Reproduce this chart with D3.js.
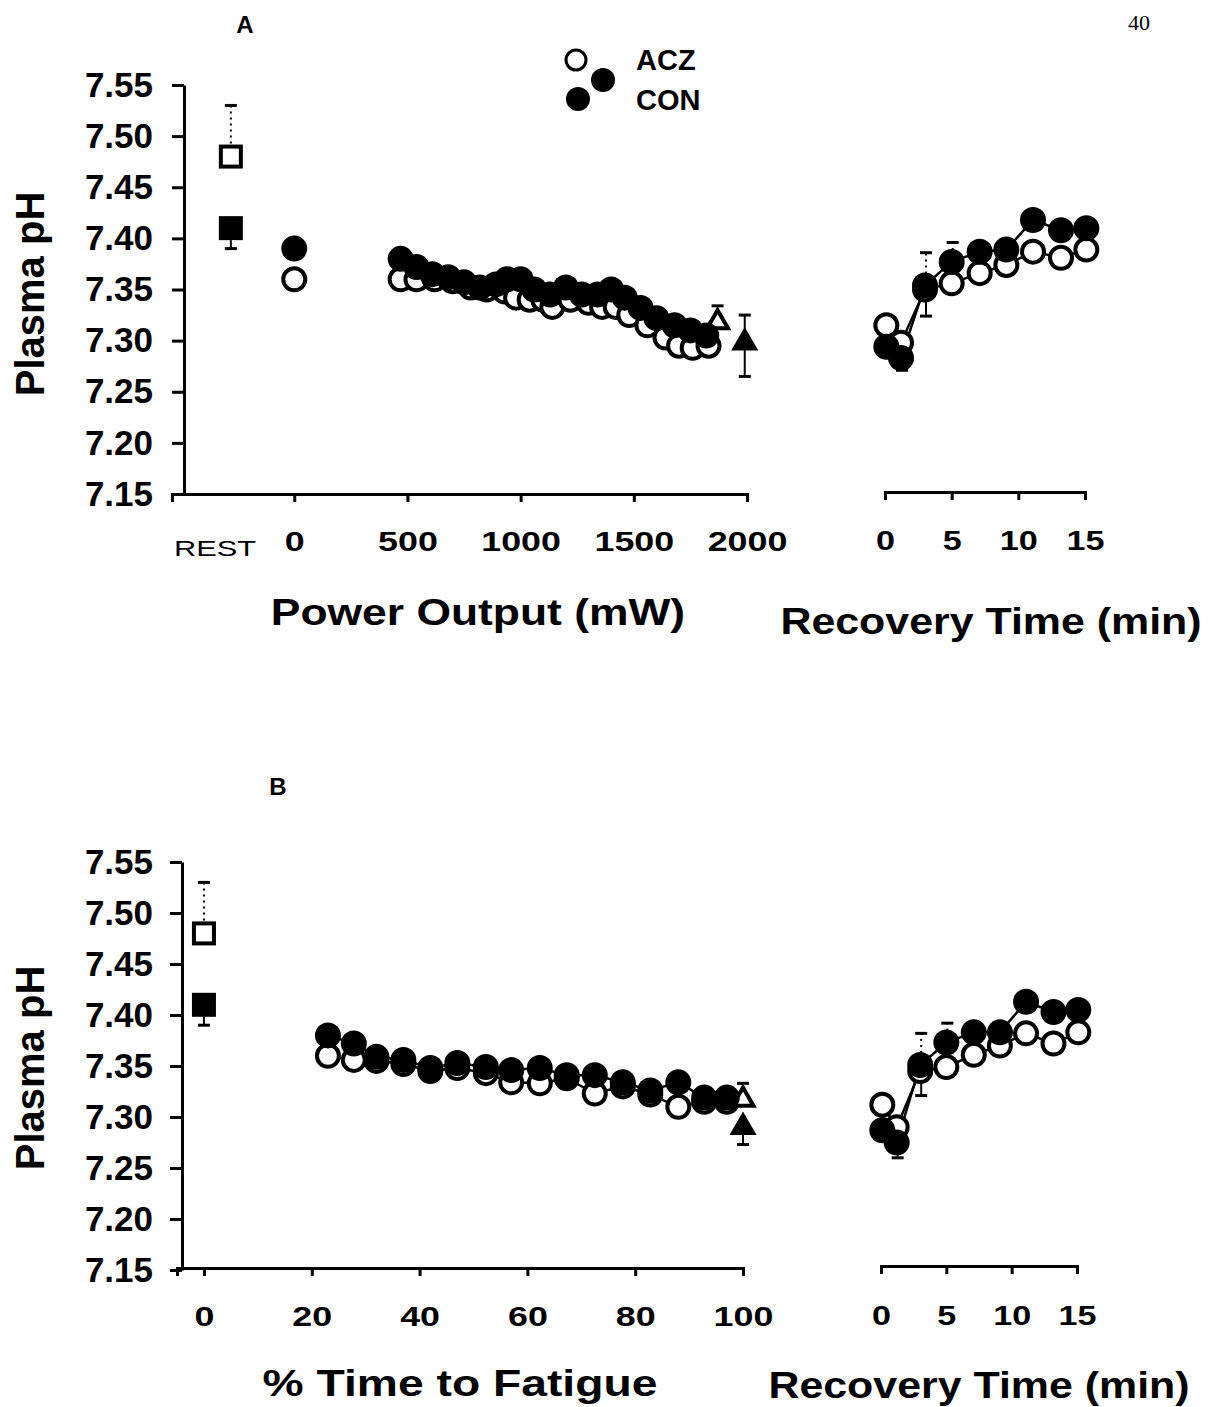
<!DOCTYPE html>
<html><head><meta charset="utf-8">
<script src="https://cdn.jsdelivr.net/npm/d3@7"></script>
<style>body{margin:0;background:#fff}</style>
</head><body>
<svg id="c" width="1213" height="1407"></svg>
<script>
// ---------------- DATA ----------------
const yTicks = [7.15, 7.20, 7.25, 7.30, 7.35, 7.40, 7.45, 7.50, 7.55];
const powerTicks = [0, 500, 1000, 1500, 2000];
const pctTicks = [0, 20, 40, 60, 80, 100];
const recTicks = [0, 5, 10, 15];

// Rest values (mean, error end)
const restACZ = 7.48, restACZerr = 7.53;
const restCON = 7.41, restCONerr = 7.39;

// Panel A: power output (mW)
const aZeroACZ = 7.36, aZeroCON = 7.39;
const aPowerACZ = [470, 540, 620, 700, 780, 850, 930, 980, 1040, 1100, 1140, 1220, 1300, 1360, 1420, 1480, 1560, 1640, 1700, 1760, 1830];
const aPhACZ    = [7.36, 7.36, 7.36, 7.358, 7.352, 7.35, 7.348, 7.342, 7.34, 7.34, 7.333, 7.34, 7.337, 7.333, 7.333, 7.325, 7.315, 7.303, 7.295, 7.293, 7.295];
const aPowerCON = [470, 540, 610, 680, 750, 820, 890, 940, 1000, 1060, 1130, 1200, 1270, 1340, 1400, 1460, 1530, 1600, 1680, 1750, 1820];
const aPhCON    = [7.38, 7.372, 7.365, 7.362, 7.357, 7.352, 7.355, 7.36, 7.36, 7.35, 7.345, 7.352, 7.345, 7.345, 7.35, 7.342, 7.332, 7.322, 7.315, 7.31, 7.305];
const aEndACZ = [1870, 7.318], aEndACZerr = [7.334];
const aEndCON = [1990, 7.298], aEndCONerr = [7.325, 7.265];

// Recovery (min)
const recTime = [0.1, 1.2, 3, 5, 7.1, 9.1, 11.1, 13.2, 15.1];
const aRecACZ = [7.315, 7.298, 7.35, 7.356, 7.366, 7.374, 7.387, 7.381, 7.389];
const aRecCON = [7.294, 7.283, 7.354, 7.377, 7.387, 7.389, 7.418, 7.408, 7.41];
const aRecCONerrHi = [null, null, 7.386, 7.396, null, null, null, null, null];
const aRecCONerrLo = [null, 7.271, 7.324, null, null, null, null, null, null];

// Panel B: % time to fatigue
const bPct   = [23, 27.8, 32, 37, 42, 47, 52.3, 57, 62.3, 67.3, 72.5, 77.7, 82.8, 88, 92.8, 97];
const bPhCON = [7.38, 7.372, 7.359, 7.356, 7.348, 7.353, 7.349, 7.346, 7.348, 7.341, 7.341, 7.334, 7.326, 7.334, 7.319, 7.319];
const bPhACZ = [7.36, 7.356, 7.355, 7.352, 7.345, 7.348, 7.343, 7.334, 7.333, 7.338, 7.323, 7.33, 7.322, 7.31, 7.315, 7.315];
const bEndACZ = [100, 7.317], bEndACZerr = [7.333];
const bEndCON = [100, 7.29],  bEndCONerr = [7.273];
const bRecACZ = [7.312, 7.29, 7.345, 7.349, 7.361, 7.37, 7.382, 7.372, 7.383];
const bRecCON = [7.287, 7.275, 7.351, 7.373, 7.383, 7.383, 7.413, 7.403, 7.405];
const bRecCONerrHi = [null, null, 7.382, 7.392, null, null, null, null, null];
const bRecCONerrLo = [null, 7.26, 7.321, null, null, null, null, null, null];

// ---------------- DRAW ----------------
const svg = d3.select('#c');
const FONT = '"Liberation Sans", Arial, Helvetica, sans-serif';
const R = 13;

function styleAxis(g) {
  g.selectAll('path,line').attr('stroke', '#000').attr('stroke-width', 3);
  g.selectAll('text').attr('fill', '#000').attr('font-family', FONT).attr('font-weight', 'bold');
}

function scaledText(parent, x, y, k, txt, size, weight) {
  return parent.append('g').attr('transform', `translate(${x},${y}) scale(${k},1)`)
    .append('text').attr('x', 0).attr('y', 0).attr('text-anchor', 'middle')
    .attr('font-family', FONT).attr('font-weight', weight).attr('font-size', size).text(txt);
}

function errBar(g, x, y0, y1, dashed) {
  g.append('line').attr('x1', x).attr('x2', x).attr('y1', y0).attr('y2', y1)
    .attr('stroke', '#000').attr('stroke-width', 2)
    .attr('stroke-dasharray', dashed ? '2,4' : null);
  g.append('line').attr('x1', x - 6).attr('x2', x + 6).attr('y1', y1).attr('y2', y1)
    .attr('stroke', '#000').attr('stroke-width', 3);
}

function drawPanel(o) {
  const g = svg.append('g');
  const y = d3.scaleLinear().domain([7.15, 7.55]).range(o.yRange);
  const x = d3.scaleLinear().domain(o.xDomain).range(o.xRange);
  const xr = d3.scaleLinear().domain([0, 15]).range(o.rRange);

  // Y axis
  const ya = g.append('g').attr('transform', `translate(${o.yAxisX},0)`)
    .call(d3.axisLeft(y).tickValues(yTicks).tickFormat(d3.format('.2f'))
      .tickSize(12).tickSizeOuter(0).tickPadding(o.yPad));
  styleAxis(ya);
  ya.selectAll('text').attr('font-size', 35);

  // X axis main
  const xa = g.append('g').attr('transform', `translate(0,${o.xAxisY})`)
    .call(d3.axisBottom(x).tickValues(o.xTicks).tickFormat(d3.format('d'))
      .tickSize(8).tickSizeOuter(8).tickPadding(o.xPad));
  styleAxis(xa);
  xa.selectAll('text').attr('font-size', 28).attr('transform', 'scale(1.28,1)');

  // Recovery axis
  const ra = g.append('g').attr('transform', `translate(0,${o.xAxisY - 2})`)
    .call(d3.axisBottom(xr).tickValues(recTicks).tickFormat(d3.format('d'))
      .tickSize(8).tickSizeOuter(8).tickPadding(o.xPad + 1));
  styleAxis(ra);
  ra.selectAll('text').attr('font-size', 28).attr('transform', 'scale(1.22,1)');

  // REST label
  if (o.restLabelX !== undefined) {
    scaledText(g, x(o.restLabelX), o.xAxisY + 62, 1.4, 'REST', 22, 'normal');
  }

  // Axis titles
  scaledText(g, o.title1[0], o.title1[1], o.title1[3], o.title1[2], 37, 'bold');
  scaledText(g, o.title2[0], o.title2[1], 1.16, 'Recovery Time (min)', 37, 'bold');
  g.append('text').attr('transform', `translate(${o.yTitle[0]},${o.yTitle[1]}) rotate(-90)`)
    .attr('text-anchor', 'middle').attr('font-family', FONT).attr('font-weight', 'bold')
    .attr('font-size', 40).text('Plasma pH');
  g.append('text').attr('x', o.letter[0]).attr('y', o.letter[1]).attr('text-anchor', 'middle')
    .attr('font-family', FONT).attr('font-weight', 'bold').attr('font-size', 24).text(o.letter[2]);

  // REST squares with error bars
  const rx = x(o.restX);
  errBar(g, rx, y(restACZ) - 13, y(restACZerr), true);
  errBar(g, rx, y(restCON) + 12, y(restCONerr), false);
  g.append('rect').attr('x', rx - 10).attr('y', y(restACZ) - 10).attr('width', 20).attr('height', 20)
    .attr('fill', '#fff').attr('stroke', '#000').attr('stroke-width', 4);
  g.append('rect').attr('x', rx - 12).attr('y', y(restCON) - 12).attr('width', 24).attr('height', 24)
    .attr('fill', '#000');

  const line = d3.line().x(d => d[0]).y(d => d[1]);
  const ptsACZ = o.exACZ[0].map((v, i) => [x(v), y(o.exACZ[1][i])]);
  const ptsCON = o.exCON[0].map((v, i) => [x(v), y(o.exCON[1][i])]);
  const recACZ = recTime.map((t, i) => [xr(t), y(o.recACZ[i])]);
  const recCON = recTime.map((t, i) => [xr(t), y(o.recCON[i])]);

  // lines
  [ptsACZ, ptsCON, recACZ, recCON].forEach(p =>
    g.append('path').attr('d', line(p)).attr('fill', 'none').attr('stroke', '#000').attr('stroke-width', 2.5));

  // error bars in recovery (CON)
  recTime.forEach((t, i) => {
    const hi = o.recCONhi[i], lo = o.recCONlo[i];
    if (hi !== null) errBar(g, xr(t) + 1, y(o.recCON[i]), y(hi), true);
    if (lo !== null) errBar(g, xr(t) + 1, y(o.recCON[i]), y(lo), false);
  });

  // end-point error bars
  o.endACZerr.forEach(e => errBar(g, x(o.endACZ[0]), y(o.endACZ[1]), y(e), true));
  o.endCONerr.forEach(e => errBar(g, x(o.endCON[0]), y(o.endCON[1]), y(e), false));

  // open circles
  const openPts = ptsACZ.concat(recACZ);
  if (o.zeroACZ !== undefined) openPts.push([x(0), y(o.zeroACZ)]);
  g.selectAll(null).data(openPts).enter().append('circle')
    .attr('cx', d => d[0]).attr('cy', d => d[1]).attr('r', R - 2)
    .attr('fill', '#fff').attr('stroke', '#000').attr('stroke-width', 4);

  // open triangle
  const triOpen = d3.symbol().type(d3.symbolTriangle).size(190);
  g.append('path').attr('d', triOpen()).attr('transform', `translate(${x(o.endACZ[0])},${y(o.endACZ[1])})`)
    .attr('fill', '#fff').attr('stroke', '#000').attr('stroke-width', 4);

  // filled circles
  const fillPts = ptsCON.concat(recCON);
  if (o.zeroCON !== undefined) fillPts.push([x(0), y(o.zeroCON)]);
  g.selectAll(null).data(fillPts).enter().append('circle')
    .attr('cx', d => d[0]).attr('cy', d => d[1]).attr('r', R)
    .attr('fill', '#000');

  // filled triangle
  const triFill = d3.symbol().type(d3.symbolTriangle).size(320);
  g.append('path').attr('d', triFill()).attr('transform', `translate(${x(o.endCON[0])},${y(o.endCON[1])})`)
    .attr('fill', '#000');
}

// Panel A
drawPanel({
  yRange: [494, 85], yAxisX: 184, yPad: 19,
  xDomain: [-540, 2000], xRange: [172, 747], xTicks: powerTicks, xAxisY: 494, xPad: 29,
  rRange: [885, 1085],
  restX: -280, restLabelX: -350,
  title1: [478, 625, 'Power Output (mW)', 1.2], title2: [991, 634],
  yTitle: [44, 294], letter: [245, 33, 'A'],
  exACZ: [aPowerACZ, aPhACZ], exCON: [aPowerCON, aPhCON],
  zeroACZ: aZeroACZ, zeroCON: aZeroCON,
  endACZ: aEndACZ, endACZerr: aEndACZerr, endCON: aEndCON, endCONerr: aEndCONerr,
  recACZ: aRecACZ, recCON: aRecCON, recCONhi: aRecCONerrHi, recCONlo: aRecCONerrLo
});

// Panel B
drawPanel({
  yRange: [1270, 862], yAxisX: 182, yPad: 17,
  xDomain: [-5, 100], xRange: [177, 743], xTicks: pctTicks, xAxisY: 1268, xPad: 30,
  rRange: [881, 1077],
  restX: 0,
  title1: [460, 1396, '% Time to Fatigue', 1.25], title2: [979, 1398],
  yTitle: [44, 1068], letter: [278, 795, 'B'],
  exACZ: [bPct, bPhACZ], exCON: [bPct, bPhCON],
  endACZ: bEndACZ, endACZerr: bEndACZerr, endCON: bEndCON, endCONerr: bEndCONerr,
  recACZ: bRecACZ, recCON: bRecCON, recCONhi: bRecCONerrHi, recCONlo: bRecCONerrLo
});

// Legend
const lg = svg.append('g');
lg.append('circle').attr('cx', 576).attr('cy', 60).attr('r', 10).attr('fill', '#fff')
  .attr('stroke', '#000').attr('stroke-width', 3);
lg.append('circle').attr('cx', 603).attr('cy', 80).attr('r', 12).attr('fill', '#000');
lg.append('circle').attr('cx', 578).attr('cy', 99).attr('r', 12).attr('fill', '#000');
lg.append('text').attr('x', 636).attr('y', 70).attr('font-family', FONT).attr('font-weight', 'bold')
  .attr('font-size', 29).text('ACZ');
lg.append('text').attr('x', 636).attr('y', 110).attr('font-family', FONT).attr('font-weight', 'bold')
  .attr('font-size', 29).text('CON');

// page number
svg.append('text').attr('x', 1150).attr('y', 30).attr('text-anchor', 'end')
  .attr('font-family', '"Liberation Serif", "DejaVu Serif", serif').attr('font-size', 22).text('40');
</script>
</body></html>
